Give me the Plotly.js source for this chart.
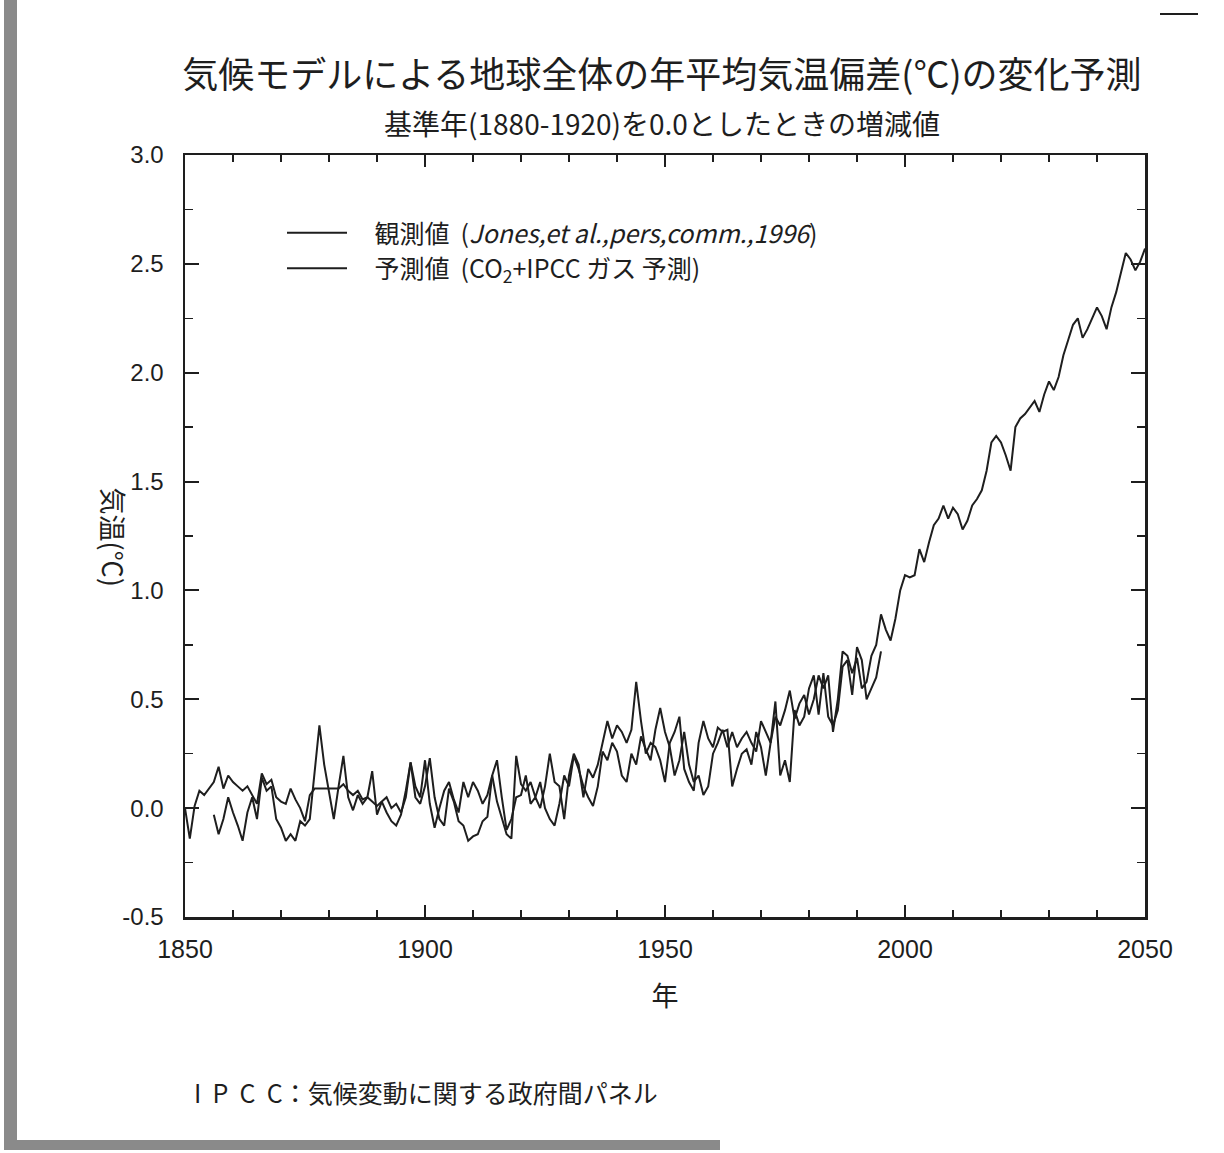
<!DOCTYPE html>
<html>
<head>
<meta charset="utf-8">
<script src="https://cdn.plot.ly/plotly-3.0.1.min.js"></script>
<style>html,body{margin:0;padding:0;background:#fff;}#chart{width:1224px;height:1153px;}</style>
</head>
<body>
<div id="chart"></div>
<script>
// Observed annual anomalies (Jones et al.), 1856-1995
const obsStartYear = 1856;
const observed = [
-0.03,-0.12,-0.05,0.05,-0.02,-0.08,-0.15,-0.02,0.05,-0.05,
0.14,0.08,0.10,-0.05,-0.09,-0.15,-0.12,-0.15,-0.06,-0.08,
-0.05,0.15,0.38,0.20,0.08,-0.05,0.10,0.24,0.05,-0.01,
0.06,0.02,0.05,0.17,-0.03,0.03,-0.02,-0.06,-0.08,-0.03,
0.08,0.21,0.05,0.02,0.10,0.23,0.05,-0.05,-0.08,0.09,
0.03,-0.06,-0.08,-0.15,-0.13,-0.12,-0.06,-0.04,0.15,0.22,
0.05,-0.10,-0.05,0.05,0.06,0.15,0.02,0.05,0.00,0.10,
0.25,0.12,0.10,-0.05,0.15,0.25,0.20,0.05,0.18,0.14,
0.20,0.30,0.40,0.32,0.38,0.35,0.30,0.36,0.58,0.40,
0.25,0.30,0.28,0.22,0.12,0.30,0.35,0.42,0.18,0.12,
0.08,0.30,0.40,0.32,0.28,0.37,0.35,0.36,0.10,0.18,
0.25,0.27,0.20,0.35,0.28,0.15,0.30,0.49,0.15,0.22,
0.12,0.45,0.38,0.42,0.55,0.61,0.43,0.62,0.42,0.38,
0.45,0.65,0.68,0.52,0.74,0.68,0.50,0.55,0.60,0.72
];
// Model projection (CO2 + IPCC gases), 1850-2050
const modelStartYear = 1850;
const projected = [
0.00,-0.14,0.01,0.08,0.06,0.09,0.12,0.19,0.09,0.15,
0.12,0.10,0.08,0.10,0.06,0.02,0.16,0.11,0.13,0.05,
0.03,0.02,0.09,0.04,0.00,-0.06,0.06,0.09,0.09,0.09,
0.09,0.09,0.09,0.11,0.08,0.06,0.08,0.04,0.05,0.03,
0.01,0.03,0.05,0.00,0.02,-0.02,0.05,0.21,0.10,0.05,
0.22,0.02,-0.09,0.00,0.08,0.12,0.04,-0.02,0.12,0.05,
0.12,0.08,0.02,0.06,0.15,0.03,-0.05,-0.12,-0.14,0.24,
0.11,0.08,0.12,0.05,0.12,0.00,-0.05,-0.08,0.02,0.15,
0.10,0.24,0.18,0.10,0.05,0.01,0.10,0.26,0.22,0.30,
0.26,0.15,0.12,0.25,0.20,0.33,0.27,0.22,0.36,0.46,
0.35,0.28,0.15,0.22,0.35,0.20,0.12,0.15,0.06,0.10,
0.25,0.30,0.36,0.28,0.35,0.28,0.32,0.35,0.30,0.26,
0.40,0.35,0.30,0.42,0.38,0.45,0.54,0.41,0.48,0.52,
0.43,0.50,0.61,0.55,0.61,0.35,0.50,0.72,0.70,0.62,
0.69,0.55,0.58,0.70,0.75,0.89,0.82,0.77,0.87,1.00,
1.07,1.06,1.07,1.19,1.13,1.22,1.30,1.33,1.39,1.33,
1.38,1.35,1.28,1.32,1.39,1.42,1.46,1.55,1.68,1.71,
1.68,1.62,1.55,1.75,1.79,1.81,1.84,1.87,1.82,1.90,
1.96,1.92,1.98,2.08,2.15,2.22,2.25,2.16,2.20,2.25,
2.30,2.26,2.20,2.30,2.37,2.46,2.55,2.52,2.47,2.51,
2.57
];
const xTickVals = [1850, 1900, 1950, 2000, 2050];
const yTickVals = [-0.5, 0.0, 0.5, 1.0, 1.5, 2.0, 2.5, 3.0];
const yTickText = ["-0.5", "0.0", "0.5", "1.0", "1.5", "2.0", "2.5", "3.0"];

const obsYears = observed.map((_, i) => obsStartYear + i);
const modelYears = projected.map((_, i) => modelStartYear + i);

const JP = '"Noto Sans CJK JP", "Noto Sans", sans-serif';
const ink = '#1e1e1e';
const pad = '\u00a0\u00a0\u00a0\u00a0';

const traces = [
  {x: obsYears, y: observed, type: 'scatter', mode: 'lines',
   name: pad + '観測値  (<i>Jones,et al.,pers,comm.,1996</i>)',
   line: {color: ink, width: 2}},
  {x: modelYears, y: projected, type: 'scatter', mode: 'lines',
   name: pad + '予測値  (CO<sub>2</sub>+IPCC ガス 予測)',
   line: {color: ink, width: 2}}
];

const pxX = px => (px - 185) / 960;
const pxY = py => (917 - py) / 762;

const layout = {
  width: 1224, height: 1153,
  margin: {l: 185, r: 79, t: 155, b: 236},
  paper_bgcolor: '#ffffff', plot_bgcolor: '#ffffff',
  font: {family: JP, color: ink},
  showlegend: true,
  legend: {x: pxX(282), y: pxY(210), xanchor: 'left', yanchor: 'top',
           bgcolor: 'rgba(0,0,0,0)', font: {size: 25, color: ink, family: JP},
           tracegroupgap: 0, itemwidth: 60},
  title: {text: '気候モデルによる地球全体の年平均気温偏差(℃)の変化予測<br><span style="font-size:28px">基準年(1880-1920)を0.0としたときの増減値</span>',
          xref: 'container', x: 662 / 1224, xanchor: 'center', y: 1 - 88/1153, yanchor: 'top',
          font: {size: 36, color: ink, family: JP}},
  xaxis: {range: [1850, 2050], tickvals: xTickVals, ticktext: xTickVals.map(String),
          ticks: 'inside', ticklen: 12, tickwidth: 2, tickcolor: ink,
          minor: {dtick: 10, ticks: 'inside', ticklen: 7, tickcolor: ink, tickwidth: 1.5},
          showline: true, linecolor: ink, linewidth: 2.5, mirror: 'ticks',
          showgrid: false, zeroline: false, ticklabelstandoff: 8,
          tickfont: {size: 25, color: ink, family: 'Liberation Sans, Arial, sans-serif'},
          title: {text: '年', font: {size: 27, color: ink, family: JP}, standoff: 26}},
  yaxis: {range: [-0.5, 3.0], tickvals: yTickVals, ticktext: yTickText,
          ticks: 'inside', ticklen: 14, tickwidth: 2, tickcolor: ink,
          minor: {dtick: 0.25, ticks: 'inside', ticklen: 8, tickcolor: ink, tickwidth: 1.5},
          showline: true, linecolor: ink, linewidth: 2.5, mirror: 'ticks',
          showgrid: false, zeroline: false, ticklabelstandoff: 14,
          tickfont: {size: 24, color: ink, family: 'Liberation Sans, Arial, sans-serif'}},
  annotations: [
    {text: '気温(℃)', textangle: 90, xref: 'paper', yref: 'paper',
     x: pxX(92), y: pxY(537), showarrow: false,
     font: {size: 27, color: ink, family: JP}},
    {text: 'I  P  C  C：気候変動に関する政府間パネル', xref: 'paper', yref: 'paper',
     x: pxX(192), y: pxY(1092), xanchor: 'left', yanchor: 'middle', showarrow: false,
     font: {size: 25, color: ink, family: JP}}
  ],
  shapes: [
    {type: 'rect', xref: 'paper', yref: 'paper', x0: pxX(4), x1: pxX(17), y0: pxY(1150), y1: pxY(0),
     fillcolor: '#8a8a8a', line: {width: 0}, layer: 'below'},
    {type: 'rect', xref: 'paper', yref: 'paper', x0: pxX(4), x1: pxX(720), y0: pxY(1150), y1: pxY(1140),
     fillcolor: '#8a8a8a', line: {width: 0}, layer: 'below'},
    {type: 'line', xref: 'paper', yref: 'paper', x0: pxX(1160), x1: pxX(1198), y0: pxY(14), y1: pxY(14),
     line: {color: ink, width: 2}}
  ]
};

Plotly.newPlot('chart', traces, layout, {displayModeBar: false, staticPlot: true});
</script>
</body>
</html>
